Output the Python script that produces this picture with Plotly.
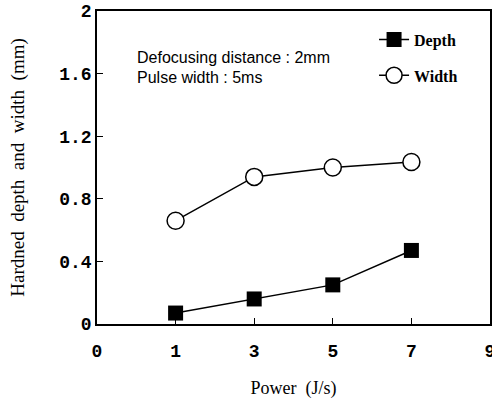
import plotly.graph_objects as go

tick_labels = ["0", "1", "3", "5", "7", "9"]
power = ["1", "3", "5", "7"]
depth = [0.07, 0.16, 0.25, 0.47]
width = [0.66, 0.94, 1.00, 1.035]
y_ticks = [0, 0.4, 0.8, 1.2, 1.6, 2]
y_ticktext = ["0", "0.4", "0.8", "1.2", "1.6", "2"]

fig = go.Figure()
fig.add_trace(go.Scatter(
    x=power, y=depth, mode="lines+markers", name="Depth", legendgroup="a",
    line=dict(color="black", width=1.5),
    marker=dict(symbol="square", size=15, color="black"),
))
fig.add_trace(go.Scatter(
    x=power, y=width, mode="lines+markers", name="Width", legendgroup="b",
    line=dict(color="black", width=1.5),
    marker=dict(symbol="circle", size=17, color="white", line=dict(color="black", width=1.5)),
))

fig.update_layout(
    width=492, height=404,
    margin=dict(l=97, r=2, t=11, b=80),
    plot_bgcolor="white", paper_bgcolor="white",
    showlegend=True,
    legend=dict(
        x=0.705, y=0.963, xanchor="left", yanchor="top",
        font=dict(family="Liberation Serif", size=16, color="black", weight="bold"),
        bgcolor="rgba(0,0,0,0)", tracegroupgap=12, traceorder="grouped",
        itemwidth=30,
    ),
    xaxis=dict(
        type="category", categoryorder="array", categoryarray=tick_labels,
        range=[0, 5], tickvals=tick_labels, ticktext=tick_labels,
        ticks="inside", ticklen=6, tickcolor="black", automargin=False,
        ticklabelstandoff=10,
        showline=True, linecolor="black", linewidth=1.5, mirror=True,
        showgrid=False, zeroline=False,
        tickfont=dict(family="Liberation Mono", size=18, color="black", weight="bold"),
        title=dict(text="Power&nbsp; (J/s)", font=dict(family="Liberation Serif", size=18, color="black"), standoff=20),
    ),
    yaxis=dict(
        range=[0, 2], tickvals=y_ticks, ticktext=y_ticktext,
        ticks="inside", ticklen=6, tickcolor="black", automargin=False,
        showline=True, linecolor="black", linewidth=1.5, mirror=True,
        showgrid=False, zeroline=False,
        tickfont=dict(family="Liberation Mono", size=18, color="black", weight="bold"),
        title=dict(text="Hardned&nbsp; depth&nbsp; and&nbsp; width&nbsp; (mm)",
                   font=dict(family="Liberation Serif", size=19, color="black"), standoff=30),
    ),
)

fig.add_annotation(
    xref="paper", yref="paper", x=0.097, y=0.853, xanchor="left", yanchor="middle",
    text="Defocusing distance : 2mm", showarrow=False,
    font=dict(family="Liberation Sans", size=16, color="black"),
)
fig.add_annotation(
    xref="paper", yref="paper", x=0.097, y=0.789, xanchor="left", yanchor="middle",
    text="Pulse width : 5ms", showarrow=False,
    font=dict(family="Liberation Sans", size=16, color="black"),
)

fig.write_html("out.html", config={"displayModeBar": False},
               post_script="document.body.style.margin='0';")
